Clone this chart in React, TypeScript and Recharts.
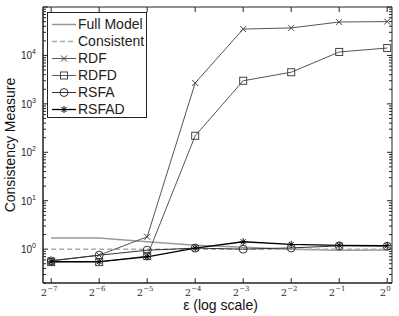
import React from "react";
import { LineChart, Line, XAxis, YAxis, ReferenceArea } from "recharts";

// x positions are log2(epsilon)
const exps = [-7, -6, -5, -4, -3, -2, -1, 0];
const fullModel = [1.7, 1.7, 1.42, 1.2, 1.1, 1.0, 0.95, 0.96];
const consistent = [1, 1, 1, 1, 1, 1, 1, 1];
const rdf = [0.58, 0.75, 1.8, 2700, 35000, 37000, 49000, 50000];
const rdfd = [0.54, 0.54, 0.72, 219, 3000, 4500, 11800, 14200];
const rsfa = [0.57, 0.75, 0.95, 1.05, 1.0, 1.06, 1.17, 1.15];
const rsfad = [0.55, 0.55, 0.69, 1.05, 1.42, 1.25, 1.2, 1.18];

const decades = [-1, 0, 1, 2, 3, 4];
const yTicks: number[] = [];
decades.forEach((k) => {
  for (let d = 1; d <= 9; d++) {
    if (k === -1 && d === 1) continue;
    yTicks.push(Number((d * Math.pow(10, k)).toPrecision(3)));
  }
});
yTicks.push(100000);

const data = exps.map((e, i) => ({
  e,
  fullModel: fullModel[i],
  consistent: consistent[i],
  rdf: rdf[i],
  rdfd: rdfd[i],
  rsfa: rsfa[i],
  rsfad: rsfad[i],
}));

const W = 399;
const H = 316;
const M = { top: 7, right: 7, bottom: 0, left: 0 };
const YW = 43;
const XH = 33;
const PW = W - YW - M.right;
const PH = H - M.top - XH;
const SANS = "'Liberation Sans', Arial, Helvetica, sans-serif";
const SERIF = "'DejaVu Serif', 'Liberation Serif', serif";

const XTick = (props: any) => {
  const { x, y, payload } = props;
  return (
    <g>
      <line x1={x} x2={x} y1={y} y2={y - 5} stroke="#222" />
      <line x1={x} x2={x} y1={y - PH} y2={y - PH + 5} stroke="#222" />
      <text x={x - 2} y={y + 13} textAnchor="middle" fontFamily={SERIF} fontSize={10} fill="#333">
        2
        <tspan dy={-5} fontSize={7}>{payload.value === 0 ? "0" : "\u2212" + Math.abs(payload.value)}</tspan>
      </text>
    </g>
  );
};

const YTick = (props: any) => {
  const { x, y, payload } = props;
  const lg = Math.log10(payload.value);
  const e = Math.round(lg);
  const major = Math.abs(lg - e) < 1e-6;
  const len = major ? 5 : 3;
  return (
    <g>
      <line x1={x} x2={x + len} y1={y} y2={y} stroke="#222" />
      <line x1={x + PW} x2={x + PW - len} y1={y} y2={y} stroke="#222" />
      {major && e <= 4 && (
        <text x={x - 7} y={y + 4} textAnchor="end" fontFamily={SANS} fontSize={10} fill="#222">
          10
          <tspan dy={-5} fontSize={7}>{e}</tspan>
        </text>
      )}
    </g>
  );
};

const Cross = (p: any) => (
  <g key={p.index}>
    <path d={`M${p.cx - 3},${p.cy - 3}L${p.cx + 3},${p.cy + 3}M${p.cx - 3},${p.cy + 3}L${p.cx + 3},${p.cy - 3}`} stroke="#444" />
  </g>
);
const Square = (p: any) => (
  <rect key={p.index} x={p.cx - 3.5} y={p.cy - 3.5} width={7} height={7} fill="none" stroke="#444" />
);
const Circ = (p: any) => <circle key={p.index} cx={p.cx} cy={p.cy} r={4} fill="none" stroke="#333" />;
const Star = (p: any) => (
  <path
    key={p.index}
    d={`M${p.cx - 3.5},${p.cy}L${p.cx + 3.5},${p.cy}M${p.cx},${p.cy - 3.5}L${p.cx},${p.cy + 3.5}M${p.cx - 2.5},${p.cy - 2.5}L${p.cx + 2.5},${p.cy + 2.5}M${p.cx - 2.5},${p.cy + 2.5}L${p.cx + 2.5},${p.cy - 2.5}`}
    stroke="#000"
  />
);

const legendItems = [
  { name: "Full Model", color: "#999", width: 1.5, dash: undefined, mark: null },
  { name: "Consistent", color: "#aaa", width: 1.5, dash: "5 3", mark: null },
  { name: "RDF", color: "#555", width: 1, dash: undefined, mark: Cross },
  { name: "RDFD", color: "#555", width: 1, dash: undefined, mark: Square },
  { name: "RSFA", color: "#333", width: 1, dash: undefined, mark: Circ },
  { name: "RSFAD", color: "#000", width: 1.3, dash: undefined, mark: Star },
];

const LegendBox = () => (
  <div
    style={{
      position: "absolute",
      left: 47,
      top: 12,
      width: 100,
      height: 106,
      border: "1px solid #222",
      background: "#fff",
      paddingTop: 3,
      boxSizing: "border-box",
    }}
  >
    {legendItems.map((it) => {
      const Mk = it.mark as any;
      return (
        <div key={it.name} style={{ display: "flex", alignItems: "center", height: 17 }}>
          <svg width={30} height={17} style={{ flex: "none" }}>
            <line x1={4} x2={28} y1={8.5} y2={8.5} stroke={it.color} strokeWidth={it.width} strokeDasharray={it.dash} />
            {Mk && <Mk cx={16} cy={8.5} index={0} />}
          </svg>
          <span style={{ fontFamily: SANS, fontSize: 14, color: "#222", lineHeight: "17px" }}>{it.name}</span>
        </div>
      );
    })}
  </div>
);

export default function App() {
  return (
    <div style={{ position: "relative", width: W, height: H }}>
      <style>{`body{margin:0}`}</style>
      <LineChart width={W} height={H} data={data} margin={M}>
        <XAxis
          dataKey="e"
          type="number"
          domain={[-7.17, 0.1]}
          ticks={exps}
          interval={0}
          height={XH}
          tickSize={0}
          tickMargin={0}
          tick={<XTick />}
          axisLine={{ stroke: "#222" }}
          allowDataOverflow
          label={{
            content: (p: any) => (
              <text
                x={p.viewBox.x + p.viewBox.width / 2 + 3}
                y={H - 6}
                textAnchor="middle"
                fontFamily={SANS}
                fontSize={14}
                fill="#111"
              >
                ε (log scale)
              </text>
            ),
          }}
        />
        <YAxis
          type="number"
          scale="log"
          domain={[0.2, 100000]}
          ticks={yTicks}
          interval={0}
          width={YW}
          tickSize={0}
          tickMargin={0}
          tick={<YTick />}
          axisLine={{ stroke: "#222" }}
          allowDataOverflow
          label={{
            content: (p: any) => {
              const cx = 10;
              const cy = p.viewBox.y + p.viewBox.height / 2;
              return (
                <text
                  x={cx}
                  y={cy}
                  transform={`rotate(-90 ${cx} ${cy})`}
                  textAnchor="middle"
                  dominantBaseline="central"
                  fontFamily={SANS}
                  fontSize={14}
                  fill="#111"
                >
                  Consistency Measure
                </text>
              );
            },
          }}
        />
        <ReferenceArea x1={-7.17} x2={0.1} y1={0.2} y2={100000} fill="none" stroke="#222" ifOverflow="visible" />
        <Line dataKey="fullModel" stroke="#999" strokeWidth={1.5} dot={false} isAnimationActive={false} />
        <Line dataKey="consistent" stroke="#aaa" strokeWidth={1.5} strokeDasharray="5 3" dot={false} isAnimationActive={false} />
        <Line dataKey="rdf" stroke="#555" strokeWidth={1} dot={Cross} isAnimationActive={false} />
        <Line dataKey="rdfd" stroke="#555" strokeWidth={1} dot={Square} isAnimationActive={false} />
        <Line dataKey="rsfa" stroke="#333" strokeWidth={1} dot={Circ} isAnimationActive={false} />
        <Line dataKey="rsfad" stroke="#000" strokeWidth={1.3} dot={Star} isAnimationActive={false} />
      </LineChart>
      <LegendBox />
    </div>
  );
}
